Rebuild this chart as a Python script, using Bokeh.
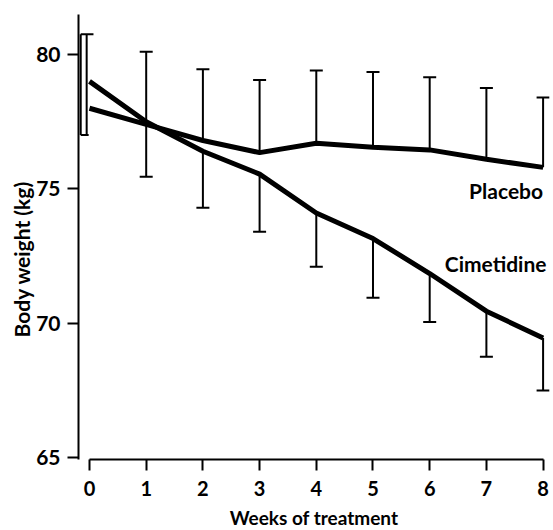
from bokeh.plotting import figure
from bokeh.models import ColumnDataSource, FixedTicker, Whisker, TeeHead, Range1d, Title
from bokeh.embed import file_html
from bokeh.resources import INLINE
from bokeh.core.properties import value

# ---- data ----
weeks = [0, 1, 2, 3, 4, 5, 6, 7, 8]
placebo = [78.0, 77.4, 76.8, 76.35, 76.7, 76.55, 76.45, 76.1, 75.8]
cimetidine = [79.0, 77.5, 76.4, 75.55, 74.1, 73.15, 71.85, 70.45, 69.45]
placebo_upper = [80.75, 80.1, 79.45, 79.05, 79.4, 79.35, 79.15, 78.75, 78.4]
cimetidine_lower = [77.0, 75.45, 74.3, 73.4, 72.1, 70.95, 70.05, 68.75, 67.5]
y_ticks = [65, 70, 75, 80]
x_ticks = [0, 1, 2, 3, 4, 5, 6, 7, 8]
series_names = ["Placebo", "Cimetidine"]

FONT = "Lato"

p = figure(frame_width=471, frame_height=448,
           x_range=Range1d(-0.194, 8.113), y_range=Range1d(64.93, 81.6),
           output_backend="svg", toolbar_location=None,
           min_border_left=78, min_border_right=3, min_border_top=11, min_border_bottom=66)
p.outline_line_color = None
p.xgrid.visible = False
p.ygrid.visible = False
p.background_fill_color = "white"
p.border_fill_color = "white"

# axes
for ax in (p.xaxis[0], p.yaxis[0]):
    ax.axis_line_width = 2
    ax.axis_line_color = "black"
    ax.major_tick_line_width = 2
    ax.major_tick_line_color = "black"
    ax.minor_tick_line_color = None
    ax.major_tick_in = 0
    ax.major_tick_out = 11
    ax.major_label_text_font = FONT
    ax.major_label_text_font_style = "bold"
    ax.major_label_text_color = "black"
    ax.axis_label_text_font = FONT
    ax.axis_label_text_font_style = "bold"
    ax.axis_label_text_color = "black"

p.xaxis.major_label_text_font_size = "20px"
p.yaxis.major_label_text_font_size = "21px"
p.xaxis.axis_label_text_font_size = "19px"

p.xaxis.ticker = FixedTicker(ticks=x_ticks)
p.yaxis.ticker = FixedTicker(ticks=y_ticks)
p.xaxis.bounds = (min(x_ticks), max(x_ticks))
p.yaxis.bounds = (64.9, 81.5)
p.xaxis.axis_label = "Weeks of treatment"
p.xaxis.major_label_standoff = 10
p.yaxis.major_label_standoff = 7
p.xaxis.axis_label_standoff = 7

# y-axis title as a side title so that it can sit lower, as in the reference
ytitle = Title(text="Body weight (kg)", align="left", offset=122,
               text_font=FONT, text_font_style="bold", text_font_size="21px",
               text_color="black", standoff=0)
p.add_layout(ytitle, "left")

src = ColumnDataSource(dict(w=weeks, pl=placebo, ci=cimetidine,
                            up=placebo_upper, lo=cimetidine_lower))
later = ColumnDataSource(dict(w=weeks[1:], pl=placebo[1:], ci=cimetidine[1:],
                              up=placebo_upper[1:], lo=cimetidine_lower[1:]))

# error bars, weeks 1-8: placebo SD upward, cimetidine SD downward
p.add_layout(Whisker(source=later, base="w", lower="pl", upper="up", dimension="height",
                     line_width=2, line_color="black",
                     upper_head=TeeHead(size=13, line_width=2, line_color="black"),
                     lower_head=None))
p.add_layout(Whisker(source=later, base="w", lower="lo", upper="ci", dimension="height",
                     line_width=2, line_color="black",
                     lower_head=TeeHead(size=13, line_width=2, line_color="black"),
                     upper_head=None))

# week 0: the two bars drawn as a narrow open box just left of the start
off_l, off_r = -0.155, -0.05
w0 = weeks[0]
p.segment(x0=[w0 + off_l, w0 + off_r], y0=[cimetidine_lower[0]] * 2,
          x1=[w0 + off_l, w0 + off_r], y1=[placebo_upper[0]] * 2,
          line_width=2, line_color="black")
p.segment(x0=[w0 + off_l, w0 + off_l], y0=[placebo_upper[0], cimetidine_lower[0]],
          x1=[w0 + 0.07, w0 - 0.015], y1=[placebo_upper[0], cimetidine_lower[0]],
          line_width=2, line_color="black")

# lines
p.line("w", "pl", source=src, line_width=5, line_color="black", line_join="round")
p.line("w", "ci", source=src, line_width=5, line_color="black", line_join="round")

# series labels
p.text(x=[weeks[-1], weeks[-1] + 0.06], y=[placebo[-1] - 0.86, cimetidine[-1] + 2.78],
       text=series_names, text_align="right", text_baseline="middle",
       text_font=value(FONT), text_font_style="bold", text_font_size="21px",
       text_color="black")

open("out.html", "w").write(file_html(p, INLINE))
